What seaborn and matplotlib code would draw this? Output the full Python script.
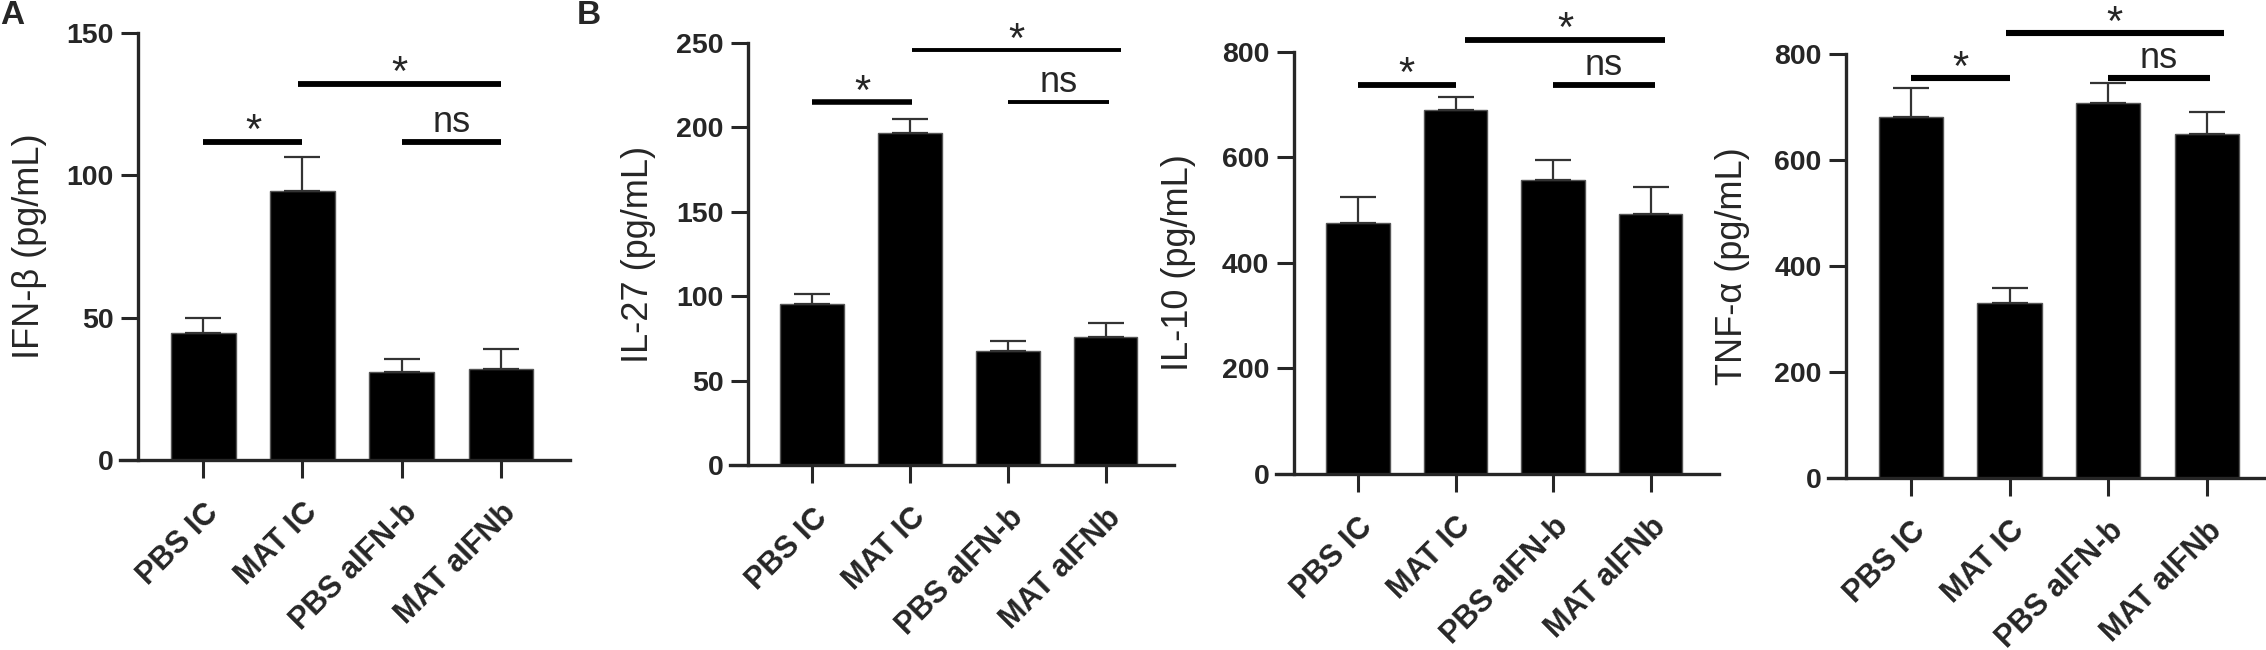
import matplotlib
matplotlib.use("Agg")
import matplotlib.pyplot as plt
import seaborn as sns
import numpy as np

# groups on the x axis (same for every panel)
groups = ["PBS IC", "MAT IC", "PBS aIFN-b", "MAT aIFNb"]

# IFN-beta
ifnb_mean = [44.7, 94.4, 31.0, 32.0]
ifnb_err = [5.2, 12.1, 4.5, 6.9]
# IL-27
il27_mean = [95.2, 196.9, 67.8, 76.1]
il27_err = [6.3, 7.8, 5.8, 7.8]
# IL-10
il10_mean = [476.5, 689.6, 556.4, 492.0]
il10_err = [48.5, 25.1, 39.2, 52.6]
# TNF-alpha
tnfa_mean = [681.8, 330.0, 706.9, 649.0]
tnfa_err = [53.2, 28.9, 37.5, 41.4]

# significance brackets: (start, end, height, text)
ifnb_sig = [(0, 1, 111.7, "*"), (0.95, 3, 132.2, "*"), (2, 3, 111.7, "ns")]
il27_sig = [(0, 1.02, 215.0, "*"), (1.02, 3.16, 245.6, "*"), (2, 3.04, 215.0, "ns")]
il10_sig = [(0, 1, 737.5, "*"), (1.1, 3.15, 822.9, "*"), (2, 3.04, 737.5, "ns")]
tnfa_sig = [(0, 1, 754.5, "*"), (0.96, 3.17, 839.0, "*"), (2, 3.03, 754.5, "ns")]

sns.set_style("ticks")
plt.rcParams['font.family'] = ['Liberation Sans', 'DejaVu Sans']

fig = plt.figure(figsize=(22.66, 6.5), dpi=100)

panels = [
    # rect, mean, err, sig, ylabel, yticks, xlim right, label x, line widths
    ([0.0530, 0.2923, 0.1986, 0.6569], ifnb_mean, ifnb_err, ifnb_sig,
     "IFN-\u03b2 (pg/mL)", [0, 50, 100, 150], 3.7, -0.162, [4.2, 4.2, 4.2]),
    ([0.3222, 0.2846, 0.1959, 0.6492], il27_mean, il27_err, il27_sig,
     "IL-27 (pg/mL)", [0, 50, 100, 150, 200, 250], 3.7, -0.167, [4.0, 2.8, 2.8]),
    ([0.5631, 0.2708, 0.1955, 0.6492], il10_mean, il10_err, il10_sig,
     "IL-10 (pg/mL)", [0, 200, 400, 600, 800], 3.7, -0.18, [4.2, 4.2, 4.2]),
    ([0.8067, 0.2646, 0.1933, 0.6523], tnfa_mean, tnfa_err, tnfa_sig,
     "TNF-\u03b1 (pg/mL)", [0, 200, 400, 600, 800], 3.6, -0.178, [4.4, 4.4, 4.4]),
]

for rect, mean, err, sig, ylabel, yticks, xr, lab_x, lws in panels:
    ax = fig.add_axes(rect)
    sns.barplot(x=groups, y=mean, color="black", saturation=1, width=0.65,
                edgecolor="#555555", linewidth=1, errorbar=None, ax=ax)

    # upward-only error bars
    ax.errorbar(np.arange(len(groups)), mean,
                yerr=[np.zeros(len(err)), err], fmt="none",
                ecolor="#333333", elinewidth=1.6, capsize=13, capthick=1.6,
                zorder=1)

    ax.set_xlim(-0.84, xr)
    ax.set_ylim(0, yticks[-1])
    ax.set_yticks(yticks)
    ax.spines["left"].set_position(("data", -0.66))
    ax.spines["right"].set_visible(False)
    ax.spines["top"].set_visible(False)
    for s in ["left", "bottom"]:
        ax.spines[s].set_linewidth(2.4)

    ax.tick_params(axis="y", length=12.5, width=2.2, labelsize=20.5, pad=5)
    ax.tick_params(axis="x", length=13, width=2.2, labelsize=22, pad=14)
    for t in ax.get_yticklabels():
        t.set_fontweight("bold")
    for t in ax.get_xticklabels():
        t.set_fontweight("bold")
        t.set_rotation(45)
        t.set_ha("right")
        t.set_va("top")
        t.set_rotation_mode("anchor")

    ax.set_ylabel(ylabel, fontsize=26)
    ax.yaxis.set_label_coords(lab_x, 0.5)

    for (x0, x1, y, txt), lw in zip(sig, lws):
        ax.plot([x0, x1], [y, y], color="black", lw=lw, clip_on=False,
                solid_capstyle="butt")
        if txt == "*":
            ax.annotate(txt, xy=((x0 + x1) / 2, y), xytext=(0, -1),
                        textcoords="offset points", ha="center",
                        va="baseline", fontsize=30, annotation_clip=False)
        else:
            ax.annotate(txt, xy=((x0 + x1) / 2, y), xytext=(0, 7),
                        textcoords="offset points", ha="center",
                        va="baseline", fontsize=26, annotation_clip=False)

fig.text(0.0, 1.0, "A", fontsize=24, fontweight="bold", ha="left", va="top")
fig.text(0.2546, 1.0, "B", fontsize=24, fontweight="bold", ha="left", va="top")

fig.savefig("out.png", dpi=100)
